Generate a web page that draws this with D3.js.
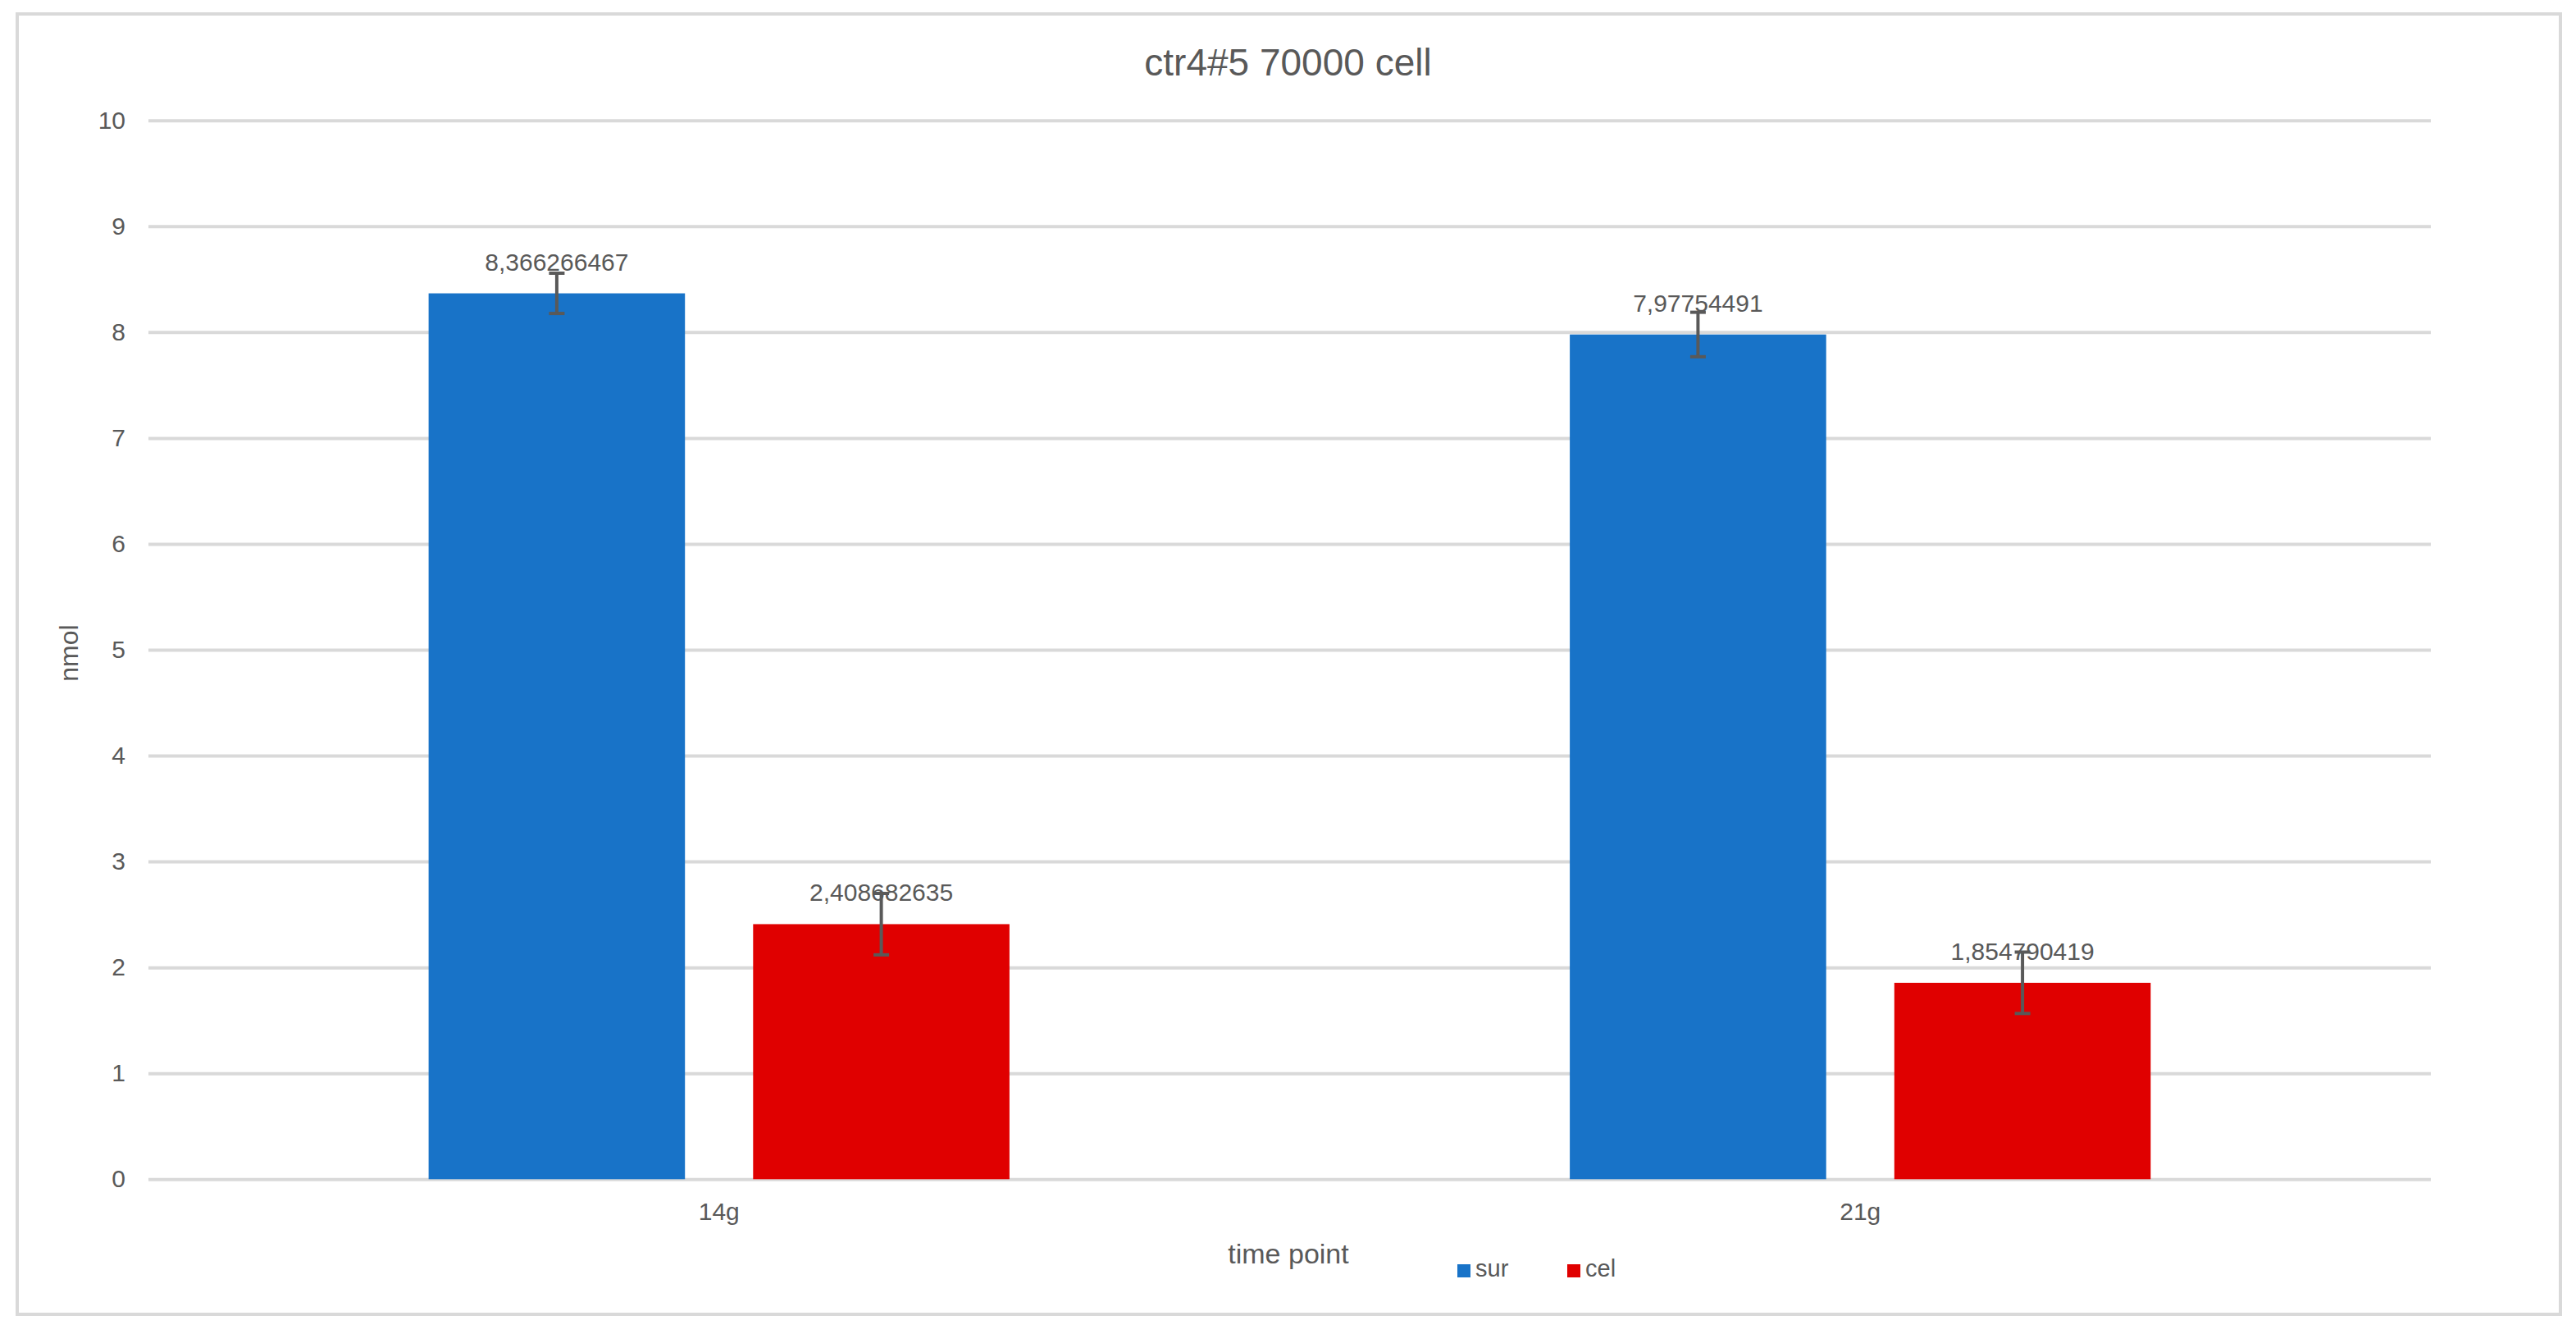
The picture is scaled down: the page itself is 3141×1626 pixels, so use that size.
<!DOCTYPE html>
<html>
<head>
<meta charset="utf-8">
<script src="https://cdn.jsdelivr.net/npm/d3@7"></script>
<style>
  body { margin: 0; background: #fff; }
  text { font-family: "Liberation Sans", Arial, sans-serif; fill: #595959; }
</style>
</head>
<body>
<div id="chart"></div>
<script>
const categories = ["14g", "21g"];
const seriesNames = ["sur", "cel"];
const surValues = [8.366266467, 7.97754491];
const celValues = [2.408682635, 1.854790419];
const surErrors = [0.19, 0.21];
const celErrors = [0.29, 0.29];
const yTicks = [0, 1, 2, 3, 4, 5, 6, 7, 8, 9, 10];
const colors = ["#1873c8", "#e00000"];

const W = 3141, H = 1626;
const margin = { top: 146.7, right: 177, bottom: 188.7, left: 181 },
      width  = W - margin.left - margin.right,
      height = H - margin.top  - margin.bottom;

const svg = d3.select("#chart")
  .append("svg")
  .attr("width", W)
  .attr("height", H);

// chart frame
svg.append("rect")
  .attr("x", 21).attr("y", 17)
  .attr("width", 3101).attr("height", 1585)
  .attr("fill", "none")
  .attr("stroke", "#d9d9d9")
  .attr("stroke-width", 4);

svg.append("text")
  .attr("x", W / 2).attr("y", 92)
  .attr("text-anchor", "middle")
  .style("font-size", "46px")
  .text("ctr4#5 70000 cell");

const g = svg.append("g")
  .attr("transform", `translate(${margin.left},${margin.top})`);

const rows = categories.map((c, i) => ({
  cat: c,
  items: [
    { s: seriesNames[0], v: surValues[i], e: surErrors[i] },
    { s: seriesNames[1], v: celValues[i], e: celErrors[i] }
  ]
}));

const x0 = d3.scaleBand()
  .domain(categories)
  .range([0, width])
  .paddingInner(0.491)
  .paddingOuter(0.2455);

const x1 = d3.scaleBand()
  .domain(seriesNames)
  .range([0, x0.bandwidth()])
  .paddingInner(0.21);

const y = d3.scaleLinear()
  .domain([0, 10])
  .range([height, 0]);

const color = d3.scaleOrdinal().domain(seriesNames).range(colors);

// gridlines
g.append("g")
  .call(d3.axisLeft(y).tickValues(yTicks).tickSize(-width).tickFormat(""))
  .call(a => a.select(".domain").remove())
  .call(a => a.selectAll("line").attr("stroke", "#d9d9d9").attr("stroke-width", 4));

// y tick labels
g.append("g")
  .call(d3.axisLeft(y).tickValues(yTicks).tickSize(0).tickPadding(28))
  .call(a => a.select(".domain").remove())
  .call(a => a.selectAll("text")
    .style("font-size", "30px")
    .style("font-family", "Liberation Sans, Arial, sans-serif")
    .attr("fill", "#595959"));

// x tick labels
g.append("g")
  .attr("transform", `translate(0,${height})`)
  .call(d3.axisBottom(x0).tickSize(0).tickPadding(28))
  .call(a => a.select(".domain").remove())
  .call(a => a.selectAll("text")
    .style("font-size", "30px")
    .style("font-family", "Liberation Sans, Arial, sans-serif")
    .attr("fill", "#595959"));

const groups = g.selectAll(".grp")
  .data(rows)
  .join("g")
  .attr("class", "grp")
  .attr("transform", d => `translate(${x0(d.cat)},0)`);

groups.selectAll("rect")
  .data(d => d.items)
  .join("rect")
  .attr("x", d => x1(d.s))
  .attr("y", d => y(d.v))
  .attr("width", x1.bandwidth())
  .attr("height", d => height - y(d.v))
  .attr("fill", d => color(d.s));

// error bars
const eb = groups.selectAll(".err")
  .data(d => d.items)
  .join("g")
  .attr("class", "err")
  .attr("stroke", "#595959")
  .attr("stroke-width", 4);

eb.append("line")
  .attr("x1", d => x1(d.s) + x1.bandwidth() / 2)
  .attr("x2", d => x1(d.s) + x1.bandwidth() / 2)
  .attr("y1", d => y(d.v + d.e))
  .attr("y2", d => y(d.v - d.e));

eb.append("line")
  .attr("x1", d => x1(d.s) + x1.bandwidth() / 2 - 9.5)
  .attr("x2", d => x1(d.s) + x1.bandwidth() / 2 + 9.5)
  .attr("y1", d => y(d.v - d.e))
  .attr("y2", d => y(d.v - d.e));

eb.append("line")
  .attr("x1", d => x1(d.s) + x1.bandwidth() / 2 - 9.5)
  .attr("x2", d => x1(d.s) + x1.bandwidth() / 2 + 9.5)
  .attr("y1", d => y(d.v + d.e))
  .attr("y2", d => y(d.v + d.e));

// data labels
groups.selectAll(".lbl")
  .data(d => d.items)
  .join("text")
  .attr("class", "lbl")
  .attr("x", d => x1(d.s) + x1.bandwidth() / 2)
  .attr("y", d => y(d.v) - 28)
  .attr("text-anchor", "middle")
  .style("font-size", "30px")
  .text(d => String(d.v).replace(".", ","));

// axis titles
svg.append("text")
  .attr("transform", "translate(95,796) rotate(-90)")
  .attr("text-anchor", "middle")
  .style("font-size", "32px")
  .text("nmol");

svg.append("text")
  .attr("x", 1571).attr("y", 1540)
  .attr("text-anchor", "middle")
  .style("font-size", "34px")
  .text("time point");

// legend
const legendX = [1777, 1911];
const legend = svg.append("g")
  .selectAll("g")
  .data(seriesNames)
  .join("g")
  .attr("transform", (d, i) => `translate(${legendX[i]},1541)`);

legend.append("rect")
  .attr("width", 16).attr("height", 16)
  .attr("fill", d => color(d));

legend.append("text")
  .attr("x", 22).attr("y", 15)
  .style("font-size", "29px")
  .text(d => d);
</script>
</body>
</html>
